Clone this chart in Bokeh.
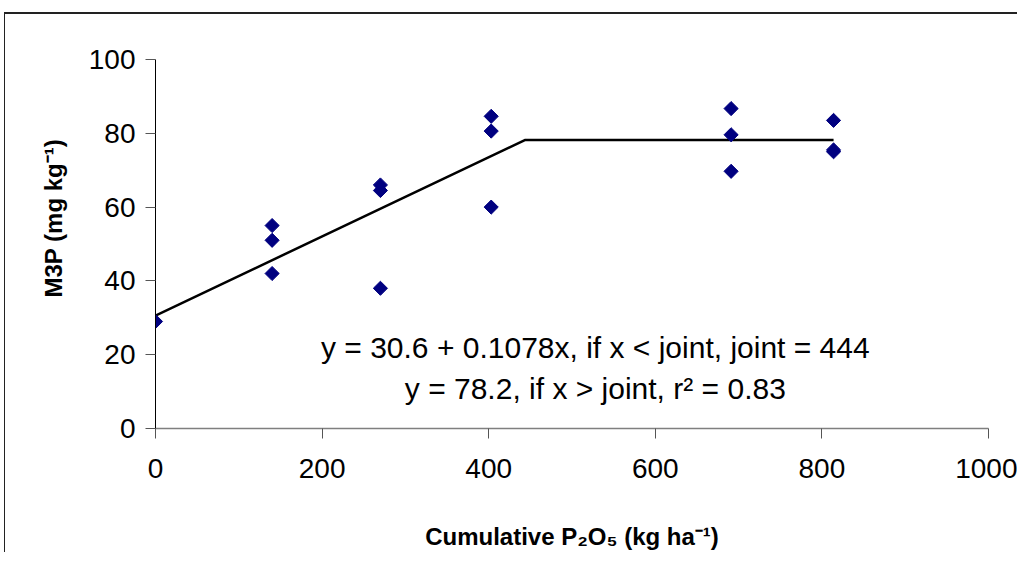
from bokeh.plotting import figure
from bokeh.models import Range1d, Label, FixedTicker, Title
from bokeh.embed import file_html
from bokeh.resources import INLINE

# Observed data (cumulative P2O5, kg/ha  vs  M3P, mg/kg)
x_vals = [0, 140, 140, 140, 270, 270, 270, 403, 403, 403, 691, 691, 691, 814, 814, 814]
y_vals = [29, 55, 51, 42, 66, 64.5, 38, 84.6, 80.6, 60, 86.7, 79.6, 69.7, 83.5, 75.5, 75]

# Segmented (linear-plateau) fit
fit_x = [0, 444, 814]
fit_y = [30.6, 78.2, 78.2]

x_ticks = [0, 200, 400, 600, 800, 1000]
y_ticks = [0, 20, 40, 60, 80, 100]

x_title = "Cumulative P\u2082O\u2085 (kg ha\u207b\u00b9)"
y_title = "M3P (mg kg\u207b\u00b9)"
eq_line1 = "y = 30.6 + 0.1078x, if x < joint, joint = 444"
eq_line2 = "y = 78.2, if x > joint, r\u00b2 = 0.83"

FONT = "Liberation Sans"

p = figure(width=1013, height=540, output_backend="svg", toolbar_location=None,
           x_range=Range1d(0, 1000), y_range=Range1d(0, 100),
           min_border_left=150, min_border_right=30, min_border_top=45, min_border_bottom=126)
p.outline_line_color = None
p.xgrid.visible = False
p.ygrid.visible = False
p.styles = {"margin-left": "4px", "margin-top": "12px",
            "border-left": "1px solid #222", "border-top": "2px solid #222"}

p.line(fit_x, fit_y, line_color="black", line_width=2.5)
p.scatter(x_vals, y_vals, marker="square", angle=0.785398, size=10,
          fill_color="#000080", line_color="#000080")

for ax in (p.xaxis[0], p.yaxis[0]):
    ax.major_label_text_font = FONT
    ax.major_label_text_font_size = "28px"
    ax.major_label_text_color = "black"
    ax.axis_label_text_font = FONT
    ax.axis_label_text_font_style = "bold"
    ax.axis_label_text_font_size = "24px"
    ax.axis_label_text_color = "black"
    ax.minor_tick_line_color = None
    ax.major_tick_in = 0
    ax.major_tick_out = 10
    ax.major_tick_line_color = "#555555"

p.xaxis.ticker = FixedTicker(ticks=x_ticks)
p.yaxis.ticker = FixedTicker(ticks=y_ticks)
p.xaxis.axis_line_color = "#7f7f7f"
p.xaxis.axis_line_width = 1.5
p.yaxis.axis_line_color = "black"
p.xaxis.major_label_standoff = 20
p.yaxis.major_label_standoff = 10
p.xaxis.axis_label = x_title
p.xaxis.axis_label_standoff = 42

# y-axis title as a side title, shifted up from the frame centre as in the original
p.add_layout(Title(text=y_title, align="left", offset=131, standoff=37,
                   text_font=FONT, text_font_style="bold", text_font_size="24px",
                   text_color="black"), "left")

p.add_layout(Label(x=528, y=22, text=eq_line1, text_align="center", text_baseline="middle",
                   text_font=FONT, text_font_size="30px", text_color="black"))
p.add_layout(Label(x=528, y=10.8, text=eq_line2, text_align="center", text_baseline="middle",
                   text_font=FONT, text_font_size="30px", text_color="black"))

open("out.html", "w").write(file_html(p, INLINE))
